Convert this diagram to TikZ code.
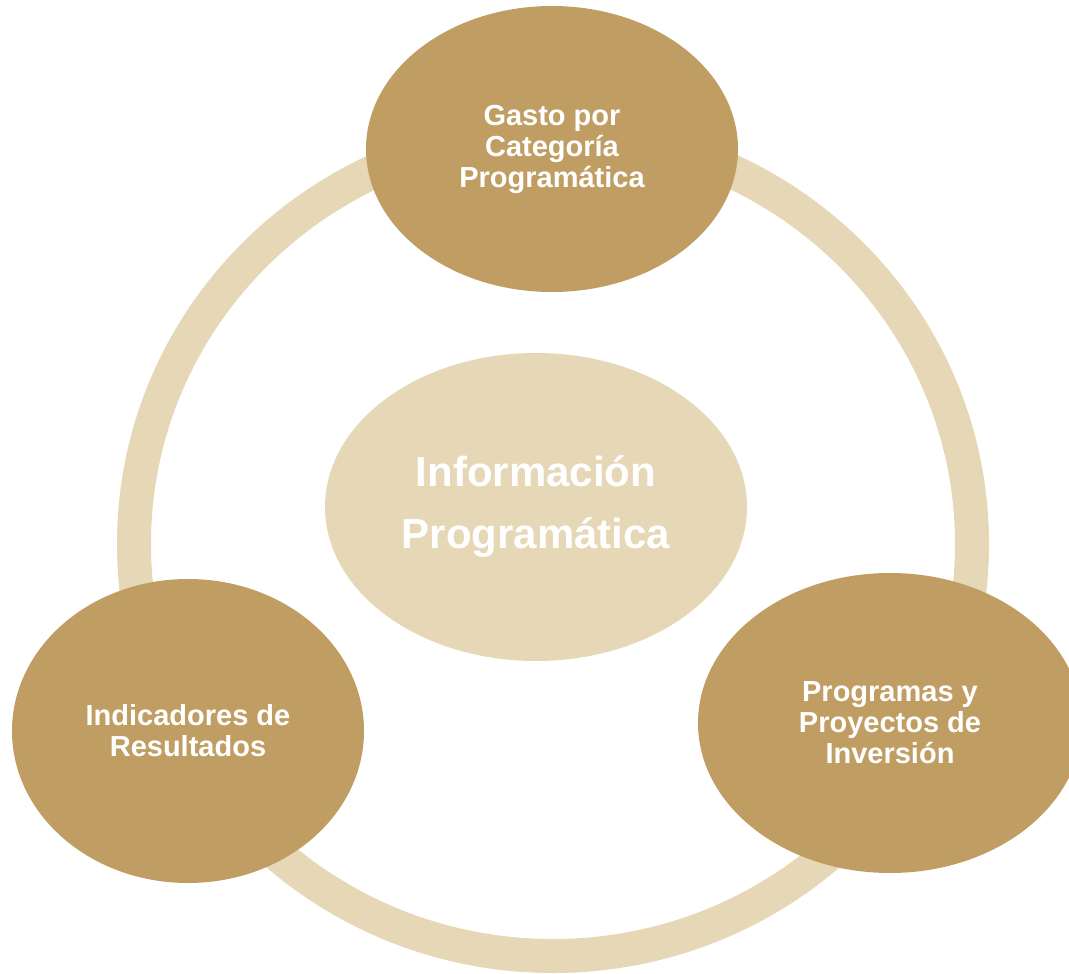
\documentclass[tikz,border=0pt]{standalone}
\usepackage{fontspec}
\setmainfont{Liberation Sans}
\usetikzlibrary{shapes.geometric}
\definecolor{oro}{RGB}{192,158,99}
\definecolor{arena}{RGB}{230,215,182}

\begin{document}
\begin{tikzpicture}[x=1pt,y=-1pt,
		sat/.style={ellipse,fill=oro,text=white,inner sep=0pt,align=center,
			font=\bfseries\fontsize{29}{31}\selectfont},
		core/.style={ellipse,fill=arena,text=white,inner sep=0pt,align=center,
			font=\bfseries\fontsize{42}{62}\selectfont},
		ring/.style={draw=arena,line width=34pt}]
		\useasboundingbox (0,0) rectangle (1069,974);
		% anillo
		\draw[ring] (553,544) ellipse [x radius=419,y radius=412];
		\node[core,minimum width=422pt,minimum height=308pt] (info) at (536,507) {Información\\Programática};
		\node[sat,minimum width=372pt,minimum height=286pt] (gasto) at (552,149) {Gasto por\\Categoría\\Programática};
		\node[sat,minimum width=352pt,minimum height=304pt] (indic) at (188,731) {Indicadores de\\Resultados};
		\node[sat,minimum width=384pt,minimum height=300pt] (progr) at (890,723) {Programas y\\Proyectos de\\Inversión};
	\end{tikzpicture}
\end{document}
